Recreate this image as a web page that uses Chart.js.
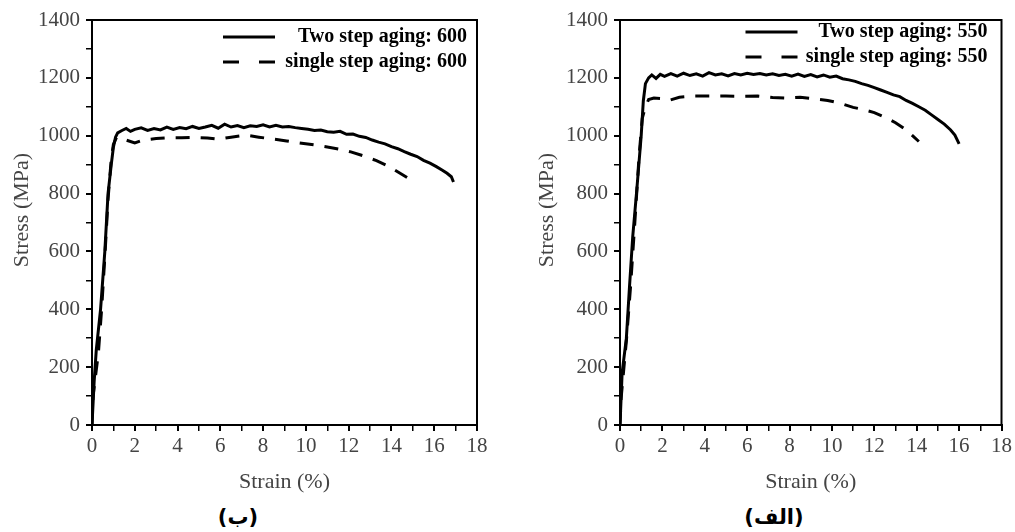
<!DOCTYPE html>
<html>
<head>
<meta charset="utf-8">
<script src="https://cdn.jsdelivr.net/npm/chart.js@4"></script>
<style>
  body { margin: 0; background: #fff; width: 1015px; height: 532px; position: relative; overflow: hidden; }
  .panel { position: absolute; top: 0; }
  .caption { position: absolute; top: 505px; font: bold 21px "DejaVu Sans", sans-serif; color: #000; transform: translateX(-50%); }
</style>
</head>
<body>
<div class="panel" style="left:0"><canvas id="chart600" width="500" height="500"></canvas></div>
<div class="panel" style="left:500px"><canvas id="chart550" width="515" height="500"></canvas></div>
<div class="caption" dir="rtl" style="left:238px">(ب)</div>
<div class="caption" dir="rtl" style="left:774px">(الف)</div>
<script>
// strain (%) and stress (MPa)
const strainTwo600 = [0, 0.1, 0.2, 0.4, 0.6, 0.75, 0.9, 1.0, 1.1, 1.2, 1.4, 1.6, 1.8, 2.0, 2.3, 2.6, 2.9, 3.2, 3.5, 3.8, 4.1, 4.4, 4.7, 5.0, 5.3, 5.6, 5.9, 6.2, 6.5, 6.8, 7.1, 7.4, 7.7, 8.0, 8.3, 8.6, 8.9, 9.2, 9.5, 9.8, 10.1, 10.4, 10.7, 11.0, 11.3, 11.6, 11.9, 12.2, 12.5, 12.8, 13.1, 13.4, 13.7, 14.0, 14.3, 14.6, 14.9, 15.2, 15.5, 15.8, 16.1, 16.4, 16.6, 16.8, 16.9];
const stressTwo600 = [0, 150, 260, 400, 600, 800, 900, 960, 995, 1010, 1018, 1025, 1015, 1022, 1027, 1018, 1025, 1020, 1030, 1022, 1028, 1024, 1032, 1025, 1030, 1036, 1026, 1040, 1030, 1035, 1028, 1034, 1032, 1038, 1030, 1036, 1030, 1032, 1028, 1025, 1022, 1018, 1020, 1014, 1012, 1015, 1005, 1006, 998, 994, 985, 978, 972, 962, 955, 945, 936, 928, 915, 905, 893, 880, 870, 858, 840];

const strainSingle600 = [0, 0.05, 0.3, 0.45, 0.6, 0.75, 0.9, 1.0, 1.15, 1.3, 1.6, 2.0, 2.4, 3.0, 3.6, 4.2, 4.8, 5.4, 5.9, 6.5, 7.2, 7.8, 8.5, 9.1, 9.7, 10.4, 11.0, 11.6, 12.1, 12.7, 13.3, 13.9, 14.5, 14.9];
const stressSingle600 = [0, 100, 250, 400, 580, 780, 920, 970, 995, 992, 985, 975, 985, 990, 993, 993, 994, 992, 988, 995, 1002, 995, 988, 982, 975, 968, 961, 953, 944, 930, 914, 893, 866, 848];

const strainTwo550 = [0, 0.1, 0.3, 0.45, 0.6, 0.8, 1.0, 1.1, 1.2, 1.35, 1.5, 1.7, 1.9, 2.1, 2.4, 2.7, 3.0, 3.3, 3.6, 3.9, 4.2, 4.5, 4.8, 5.1, 5.4, 5.7, 6.0, 6.3, 6.6, 6.9, 7.2, 7.5, 7.8, 8.1, 8.4, 8.7, 9.0, 9.3, 9.6, 9.9, 10.2, 10.5, 10.8, 11.1, 11.4, 11.7, 12.0, 12.3, 12.6, 12.9, 13.2, 13.5, 13.8, 14.1, 14.4, 14.7, 15.0, 15.3, 15.6, 15.8, 16.0];
const stressTwo550 = [0, 180, 300, 480, 650, 820, 1000, 1120, 1180, 1200, 1210, 1198, 1212, 1205, 1215, 1206, 1216, 1208, 1214, 1206, 1218, 1210, 1214, 1207, 1215, 1210, 1216, 1212, 1215, 1210, 1214, 1208, 1212, 1206, 1213, 1205, 1211, 1203, 1210, 1202, 1206, 1197, 1193, 1188, 1180, 1174, 1166, 1158, 1150, 1141, 1135, 1122, 1112, 1100, 1088, 1072, 1056, 1040, 1020, 1002, 972];

const strainSingle550 = [0, 0.05, 0.3, 0.5, 0.7, 0.9, 1.05, 1.2, 1.35, 1.6, 2.0, 2.3, 2.8, 3.5, 4.2, 5.0, 5.8, 6.5, 7.2, 7.8, 8.5, 9.2, 9.8, 10.4, 11.0, 11.5, 12.0, 12.5, 13.0, 13.5, 13.8, 14.1];
const stressSingle550 = [0, 90, 290, 480, 700, 930, 1060, 1100, 1125, 1130, 1128, 1122, 1133, 1137, 1137, 1137, 1136, 1137, 1132, 1130, 1133, 1127, 1122, 1112, 1098, 1090, 1080, 1064, 1045, 1020, 1000, 980];

const xTicks = [0, 2, 4, 6, 8, 10, 12, 14, 16, 18];
const yTicks = [0, 200, 400, 600, 800, 1000, 1200, 1400];

function points(xs, ys) {
    return xs.map((x, i) => ({ x: x, y: ys[i] }));
}

const serif = 'Liberation Serif';

// full black frame around the plot area, plus the y title (sits a bit above centre in the original)
const frame = {
    id: 'frame',
    afterDraw(chart, args, opts) {
        const { ctx, chartArea } = chart;
        ctx.save();
        ctx.strokeStyle = '#000';
        ctx.lineWidth = 2;
        ctx.strokeRect(chartArea.left, chartArea.top, chartArea.right - chartArea.left, chartArea.bottom - chartArea.top);
        ctx.translate(opts.titleX, opts.titleY);
        ctx.rotate(-Math.PI / 2);
        ctx.fillStyle = '#444';
        ctx.font = '22px "' + serif + '"';
        ctx.textAlign = 'center';
        ctx.textBaseline = 'middle';
        ctx.fillText('Stress (MPa)', 0, 0);
        ctx.restore();
    }
};

// legend drawn inside the top right corner
const insideLegend = {
    id: 'insideLegend',
    afterDraw(chart, args, opts) {
        const { ctx, chartArea } = chart;
        ctx.save();
        chart.data.datasets.forEach((ds, i) => {
            const y = chartArea.top + opts.top + i * 25;
            ctx.strokeStyle = '#000';
            ctx.lineWidth = 3;
            ctx.setLineDash(ds.borderDash && ds.borderDash.length ? [16, 20] : []);
            ctx.beginPath();
            ctx.moveTo(chartArea.right - opts.lineStart, y);
            ctx.lineTo(chartArea.right - opts.lineStart + 52, y);
            ctx.stroke();
            ctx.setLineDash([]);
            ctx.fillStyle = '#000';
            ctx.font = 'bold 20px "' + serif + '"';
            ctx.textAlign = 'right';
            ctx.textBaseline = 'middle';
            ctx.fillText(ds.label, chartArea.right - opts.textGap, y);
        });
        ctx.restore();
    }
};

function makeChart(id, twoX, twoY, singleX, singleY, temp, legendOpts, frameOpts, yWidth, padRight) {
    return new Chart(document.getElementById(id), {
        type: 'line',
        data: {
            datasets: [
                {
                    label: 'Two step aging: ' + temp,
                    data: points(twoX, twoY),
                    borderColor: '#000',
                    borderWidth: 3,
                    pointRadius: 0,
                    tension: 0
                },
                {
                    label: 'single step aging: ' + temp,
                    data: points(singleX, singleY),
                    borderColor: '#000',
                    borderWidth: 3,
                    borderDash: [14, 11],
                    pointRadius: 0,
                    tension: 0
                }
            ]
        },
        options: {
            responsive: false,
            animation: false,
            layout: { padding: { top: 20, right: padRight, left: 0, bottom: 0 } },
            plugins: {
                legend: { display: false },
                tooltip: { enabled: false },
                insideLegend: legendOpts,
                frame: frameOpts
            },
            scales: {
                x: {
                    type: 'linear',
                    min: 0,
                    max: 18,
                    afterFit: s => { s.height = 75; },
                    border: { color: '#000', width: 2 },
                    grid: {
                        drawOnChartArea: false,
                        drawTicks: true,
                        tickLength: 6,
                        color: '#000',
                        lineWidth: c => (xTicks.includes(c.tick.value) ? 2 : 1.5)
                    },
                    ticks: {
                        stepSize: 1,
                        autoSkip: false,
                        maxRotation: 0,
                        padding: 3,
                        color: '#444',
                        font: { family: serif, size: 21 },
                        callback: v => (xTicks.includes(v) ? v : '')
                    },
                    title: {
                        display: true,
                        text: 'Strain (%)',
                        color: '#444',
                        font: { family: serif, size: 22 },
                        padding: { top: 0, bottom: 5 }
                    }
                },
                y: {
                    min: 0,
                    max: 1400,
                    afterFit: s => { s.width = yWidth; },
                    border: { color: '#000', width: 2 },
                    grid: {
                        drawOnChartArea: false,
                        drawTicks: true,
                        tickLength: 6,
                        color: '#000',
                        lineWidth: c => (yTicks.includes(c.tick.value) ? 2 : 1.5)
                    },
                    ticks: {
                        stepSize: 100,
                        autoSkip: false,
                        padding: 6,
                        color: '#444',
                        font: { family: serif, size: 21 },
                        callback: v => (yTicks.includes(v) ? v : '')
                    }
                }
            }
        },
        plugins: [frame, insideLegend]
    });
}

makeChart('chart600', strainTwo600, stressTwo600, strainSingle600, stressSingle600, '600',
    { top: 17, lineStart: 254, textGap: 10 }, { titleX: 22, titleY: 210 }, 92, 23);
makeChart('chart550', strainTwo550, stressTwo550, strainSingle550, stressSingle550, '550',
    { top: 12, lineStart: 256, textGap: 14 }, { titleX: 47, titleY: 210 }, 120, 9);
</script>
</body>
</html>
